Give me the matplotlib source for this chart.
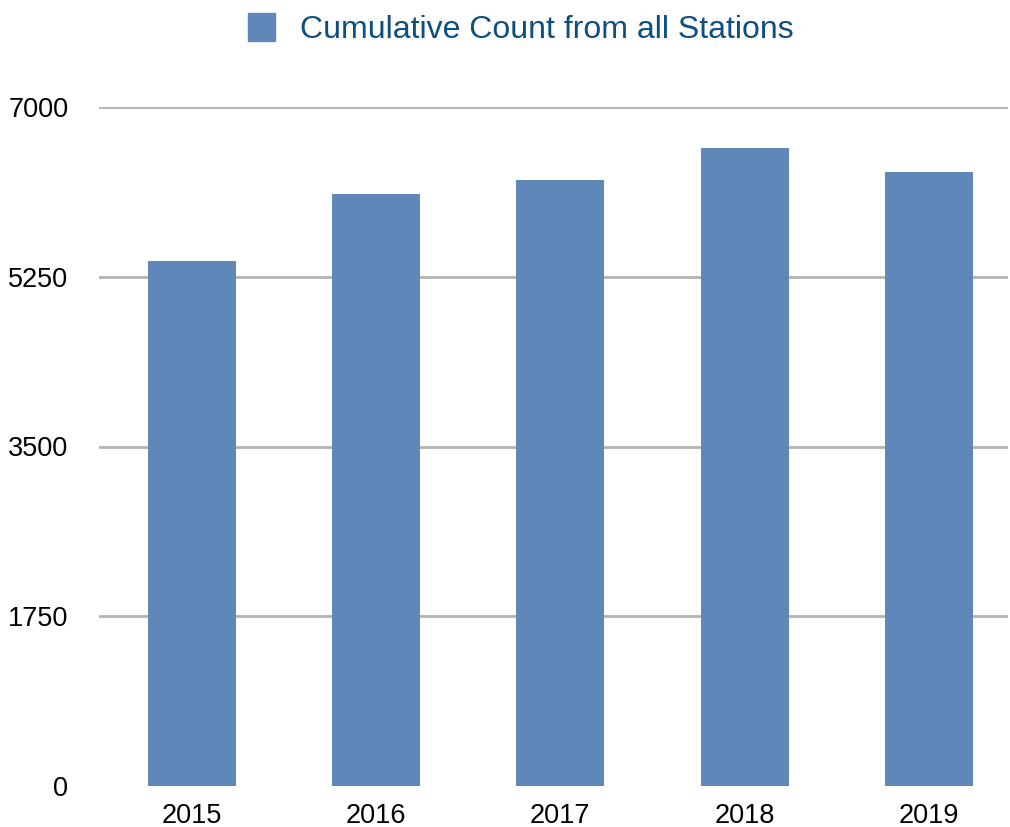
import matplotlib
matplotlib.use("Agg")
import matplotlib.pyplot as plt
from matplotlib.patches import Patch

# datos
anios = ["2015", "2016", "2017", "2018", "2019"]
conteo = [5415, 6103, 6247, 6574, 6327]
ticks_y = [0, 1750, 3500, 5250, 7000]
etiqueta = "Cumulative Count from all Stations"

color_barra = "#5f87b9"
color_texto = "#0d4f7f"

plt.rcParams["font.family"] = ["Liberation Sans", "DejaVu Sans"]

fig = plt.figure(figsize=(10.10, 8.27), dpi=100)
ax = fig.add_axes([99 / 1010, 41 / 827, 909 / 1010, 679 / 827])

x = list(range(len(anios)))
ax.bar(x, conteo, width=0.477, color=color_barra, zorder=3)

ax.set_ylim(0, 7000)
ax.set_xlim(-0.502, 4.428)
ax.set_yticks(ticks_y)
ax.set_yticklabels([str(t) for t in ticks_y])
ax.set_xticks(x)
ax.set_xticklabels(anios)
ax.tick_params(axis="both", length=0, labelsize=19.5, colors="black")
ax.tick_params(axis="y", pad=22)
ax.tick_params(axis="x", pad=12)

for s in ax.spines.values():
    s.set_visible(False)
ax.yaxis.grid(True, color="#b3b3b3", linewidth=2, zorder=0)
ax.xaxis.grid(False)
ax.get_ygridlines()[0].set_visible(False)

fig.legend(handles=[Patch(color=color_barra, label=etiqueta)],
           loc="upper left", bbox_to_anchor=(235 / 1010, 1.0),
           frameon=False, fontsize=23, labelcolor=color_texto,
           handlelength=0.85, handleheight=1.0, handletextpad=0.78,
           borderaxespad=0.0)

fig.savefig("out.png", dpi=100)
